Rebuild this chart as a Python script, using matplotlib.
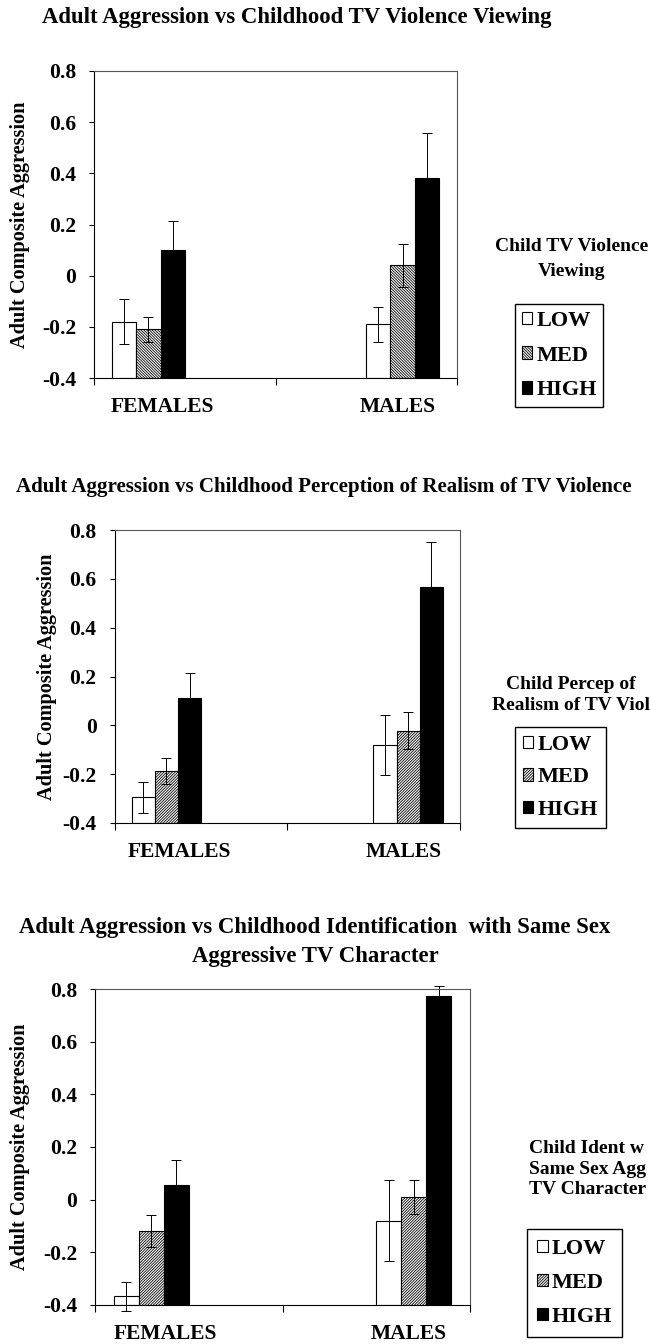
import matplotlib
matplotlib.use("Agg")
import numpy as np
from matplotlib import pyplot as plt
from matplotlib.ticker import FuncFormatter

# categories
groups = ["FEMALES", "MALES"]
levels = ["LOW", "MED", "HIGH"]

# rows: LOW, MED, HIGH   cols: FEMALES, MALES
viewing_means = [[-0.18, -0.19], [-0.21, 0.04], [0.10, 0.38]]
viewing_errs = [[0.088, 0.068], [0.048, 0.085], [0.114, 0.178]]

realism_means = [[-0.295, -0.08], [-0.188, -0.022], [0.11, 0.565]]
realism_errs = [[0.062, 0.122], [0.053, 0.076], [0.106, 0.187]]

ident_means = [[-0.366, -0.08], [-0.119, 0.011], [0.057, 0.775]]
ident_errs = [[0.055, 0.154], [0.062, 0.064], [0.093, 0.036]]

y_ticks = [-0.4, -0.2, 0.0, 0.2, 0.4, 0.6, 0.8]

plt.rcParams["font.family"] = ["Liberation Serif", "DejaVu Serif"]
plt.rcParams["font.weight"] = "bold"
plt.rcParams["hatch.linewidth"] = 0.6

W, H = 651, 1344
fig = plt.figure(figsize=(W / 100, H / 100), dpi=100)


def px_axes(left, right, top, bottom):
    return fig.add_axes([left / W, 1 - bottom / H, (right - left) / W, (bottom - top) / H])


def draw_panel(ax, means, errs, hatch, ylabel_x):
    group_x = np.array([0.30, 1.70])
    offsets = [-0.134, 0.0, 0.134]
    fills = ["white", "white", "black"]
    hatches = [None, hatch, None]
    handles = []
    for i, lvl in enumerate(levels):
        x = group_x + offsets[i]
        m = np.array(means[i])
        b = ax.bar(x, m + 0.4, bottom=-0.4, width=0.134, color=fills[i],
                   edgecolor="black", linewidth=0.8, hatch=hatches[i], label=lvl)
        handles.append(b)
        ax.errorbar(x, m, yerr=errs[i], fmt="none", ecolor="black", elinewidth=0.7,
                    capsize=3.3, capthick=0.7, clip_on=False)
    ax.set_xlim(0, 2)
    ax.set_ylim(-0.4, 0.8)
    ax.set_yticks(y_ticks)
    ax.yaxis.set_major_formatter(FuncFormatter(lambda v, p: "%g" % round(v, 1)))
    ax.set_xticks([0, 1, 2])
    ax.set_xticklabels([])
    ax.set_xticks([0.375, 1.675], minor=True)
    ax.set_xticklabels(groups, minor=True)
    ax.tick_params(axis="x", which="major", length=5, direction="out", width=0.8)
    ax.tick_params(axis="x", which="minor", length=0, pad=13.5, labelsize=15.5)
    ax.tick_params(axis="y", length=3.5, direction="out", width=0.8, pad=9.5, labelsize=15.5)
    for s in ax.spines.values():
        s.set_linewidth(0.8)
    ax.spines["top"].set_color("#555555")
    ax.spines["right"].set_color("#555555")
    ax.set_ylabel("Adult Composite Aggression", fontsize=14.6, fontweight="bold")
    ax.yaxis.set_label_coords(ylabel_x, 0.5)
    return handles


def draw_legend(ax, handles, x, y, spacing, pad):
    leg = ax.legend(handles, levels, loc="upper left", bbox_to_anchor=(x / W, 1 - y / H),
                    bbox_transform=fig.transFigure, frameon=True, fancybox=False,
                    edgecolor="black", handlelength=0.48, handleheight=0.48,
                    handletextpad=0.18, labelspacing=spacing, borderpad=pad,
                    borderaxespad=0, prop={"size": 16, "weight": "bold"})
    leg.get_frame().set_linewidth(1.0)
    leg.get_frame().set_alpha(1)


# panel 1
ax1 = px_axes(94, 457, 71, 378)
h = draw_panel(ax1, viewing_means, viewing_errs, "\\" * 12, -0.176)
draw_legend(ax1, h, 515, 304, 0.67, 0.3)
fig.text(297 / W, 1 - 18 / H, "Adult Aggression vs Childhood TV Violence Viewing",
         ha="center", va="center", fontsize=16.4, fontweight="bold")
fig.text(572 / W, 1 - 259 / H, "Child TV Violence\nViewing", ha="center", va="center",
         fontsize=14, fontweight="bold", linespacing=1.6)

# panel 2
ax2 = px_axes(114.6, 460, 530, 823)
h = draw_panel(ax2, realism_means, realism_errs, "/" * 12, -0.167)
draw_legend(ax2, h, 515, 727, 0.57, 0.35)
fig.text(324 / W, 1 - 487 / H, "Adult Aggression vs Childhood Perception of Realism of TV Violence",
         ha="center", va="center", fontsize=15.1, fontweight="bold")
fig.text(571 / W, 1 - 695 / H, "Child Percep of\nRealism of TV Viol", ha="center", va="center",
         fontsize=14, fontweight="bold", linespacing=1.25)

# panel 3
ax3 = px_axes(95, 470, 989, 1305)
h = draw_panel(ax3, ident_means, ident_errs, "/" * 12, -0.173)
draw_legend(ax3, h, 527, 1229, 0.63, 0.45)
fig.text(315 / W, 1 - 942 / H,
         "Adult Aggression vs Childhood Identification  with Same Sex\nAggressive TV Character",
         ha="center", va="center", fontsize=16.4, fontweight="bold", linespacing=1.52)
fig.text(529 / W, 1 - 1169 / H, "Child Ident w\nSame Sex Agg\nTV Character", ha="left", va="center",
         fontsize=14, fontweight="bold", linespacing=1.27)

fig.savefig("out.png", dpi=100)
